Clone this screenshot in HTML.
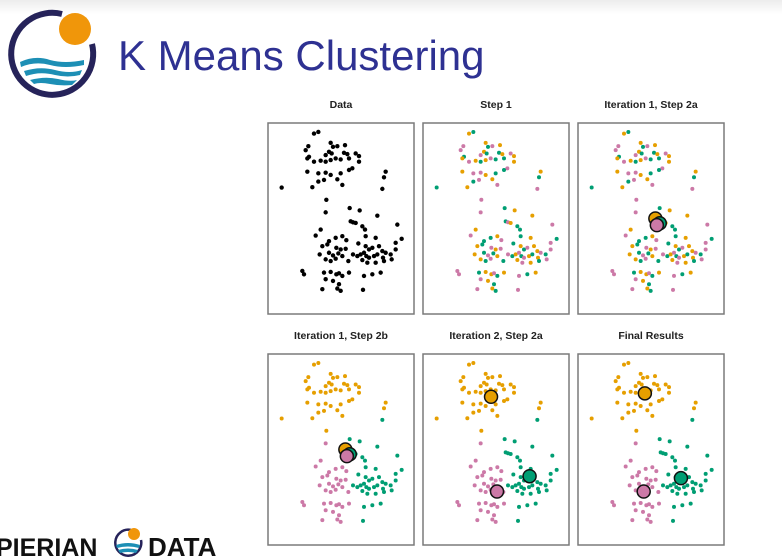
<!DOCTYPE html>
<html><head><meta charset="utf-8"><style>
html,body{margin:0;padding:0;background:#fff;width:782px;height:560px;overflow:hidden;font-family:"Liberation Sans",sans-serif}
</style></head><body>
<svg width="782" height="560" viewBox="0 0 782 560">
<defs><linearGradient id="topfade" x1="0" y1="0" x2="0" y2="1"><stop offset="0" stop-color="#ececec"/><stop offset="1" stop-color="#fff"/></linearGradient></defs>
<rect x="0" y="0" width="782" height="14" fill="url(#topfade)"/>
<g>
  <path d="M 62 14 A 41 41 0 1 0 92 44" fill="none" stroke="#26235a" stroke-width="6"/>
  <circle cx="75" cy="29" r="16" fill="#f0960a"/>
  <path d="M 20 62 Q 35 55 50 60 Q 65 64 84 60 L 84 65 Q 65 69 50 65 Q 35 61 21 67 Z" fill="#1d8fb5"/>
  <path d="M 24 71 Q 40 66 55 70 Q 70 74 82 70 L 80 75 Q 68 78 55 75 Q 40 71 26 76 Z" fill="#1d8fb5"/>
  <path d="M 30 80 Q 45 76 58 79 Q 70 82 77 80 L 72 85 Q 60 86 50 84 Q 40 82 34 84 Z" fill="#1d8fb5"/>
</g>
<text x="118" y="70" font-size="42" fill="#2e3192">K Means Clustering</text>
<g>
  <text x="-4" y="556" font-size="25" font-weight="bold" fill="#111">PIERIAN</text>
  <path d="M 131 530 A 13 13 0 1 0 141 540" fill="none" stroke="#26235a" stroke-width="2.5"/>
  <circle cx="134" cy="534" r="6" fill="#f0960a"/>
  <path d="M 116 545 Q 128 541 140 545 L 139 548 Q 128 545 117 548 Z M 118 550 Q 128 547 138 550 L 136 553 Q 128 551 120 553 Z" fill="#1d8fb5"/>
  <text x="148" y="556" font-size="26" font-weight="bold" fill="#111">DATA</text>
</g>
<g id="fig"></g>
</svg>
<script>
// Data in figure units (x 0..100 left->right, y 0..100 top->bottom)
const xsRaw=[165,178,140,148,215,222,235,258,210,218,200,255,265,290,300,270,150,145,165,185,200,215,230,245,300,280,270,145,178,200,215,245,235,195,178,160,250,68,380,375,370,
202,200,272,302,355,275,282,290,310,318,415,185,170,230,250,262,210,320,350,428,410,190,205,232,245,260,298,320,330,340,360,370,380,395,410,182,210,222,238,250,282,295,305,315,322,330,345,355,372,398,200,215,230,268,310,325,350,375,130,135,195,215,232,240,250,270,315,340,365,200,222,240,190,235,245,312];
const ysRaw=[130,125,180,168,158,170,168,165,185,190,195,188,192,190,198,205,200,205,215,212,215,210,205,208,215,235,240,245,250,248,255,250,268,270,275,292,285,293,245,262,297,
330,368,355,362,378,395,398,400,410,420,405,420,438,445,440,452,455,440,445,448,460,470,465,475,480,478,462,470,480,475,470,485,490,495,480,495,490,498,492,500,495,500,495,490,500,505,500,495,505,510,510,515,508,515,512,520,520,515,545,555,550,548,555,552,560,550,560,555,550,570,575,585,600,598,605,602];
const stepLabels=[0,2,1,1,0,2,1,0,0,2,1,2,0,1,0,2,2,0,1,0,2,0,1,2,0,1,2,0,1,1,0,2,0,1,2,0,1,2,0,2,1,
1,1,2,0,0,2,1,0,2,2,1,0,1,2,0,1,2,2,0,2,1,0,2,1,0,1,2,0,2,1,0,0,1,2,1,0,2,1,2,0,1,2,0,1,2,1,0,2,0,1,0,2,1,2,0,1,0,2,1,1,2,0,0,1,2,0,1,2,0,1,0,2,1,0,2,
1,0,2,2,1,0,1,2,0,0,2,1,0,1,2,2,0,1,2,0,1,2];
const centroidsIter1=[[53,50],[56,52.5],[54,53.5]];
const centroidIter1Colors=[0,2,1];
const centroidsIter2=[[46.6,22.4],[50.7,72],[73,64]];
const centroidsFinal=[[45.8,20.6],[45,72],[70.5,65]];
const panelTitles=["Data","Step 1","Iteration 1, Step 2a","Iteration 1, Step 2b","Iteration 2, Step 2a","Final Results"];
const colors=["#e69f00","#cc79a7","#009e73"];
const xs=xsRaw.map(v=>(v-27)/4.38), ys=ysRaw.map(v=>(v-98)/5.77);
const finalLabels=xs.map((x,i)=>{let b=0,bd=1e9;centroidsFinal.forEach((c,k)=>{const d=(c[0]-x)**2+(c[1]-ys[i])**2;if(d<bd){bd=d;b=k;}});return b;});
const NS="http://www.w3.org/2000/svg",fig=document.getElementById('fig');
const PX=[268,423,578],PY=[123,354],PW=146,PH=191;
function mk(t,a,p){const e=document.createElementNS(NS,t);for(const k in a)e.setAttribute(k,a[k]);p.appendChild(e);return e;}
panelTitles.forEach((title,p)=>{
  const x0=PX[p%3],y0=PY[Math.floor(p/3)];
  const sx=v=>x0+v/100*PW, sy=v=>y0+v/100*PH;
  const g=mk('g',{},fig);
  
  
  const t=mk('text',{x:x0+PW/2,y:y0-15,'text-anchor':'middle','font-size':'10.5','font-weight':'bold',fill:'#222'},g);
  t.textContent=title;
  
  
  const r=mk('rect',{x:x0,y:y0,width:PW,height:PH,fill:'#fff',stroke:'#7a7a7a','stroke-width':1.5},g);
  
  
  xs.forEach((x,i)=>{
    let fill='#000';
    if(p===1||p===2) fill=colors[stepLabels[i%stepLabels.length]];
    else if(p>=3) fill=colors[finalLabels[i]];
    const c=mk('circle',{cx:sx(x),cy:sy(ys[i]),r:p===0?2.2:2,fill:fill},g);
    
    
  });
  const cents=p===2||p===3?centroidsIter1:p===4?centroidsIter2:p===5?centroidsFinal:null;
  if(cents) cents.forEach((c,k)=>{
    const col=(p===2||p===3)?colors[centroidIter1Colors[k]]:colors[k];
    const e=mk('circle',{cx:sx(c[0]),cy:sy(c[1]),r:6.5,fill:col,stroke:'#111','stroke-width':1.5},g);
    
    
  });
});
</script>
</body></html>
